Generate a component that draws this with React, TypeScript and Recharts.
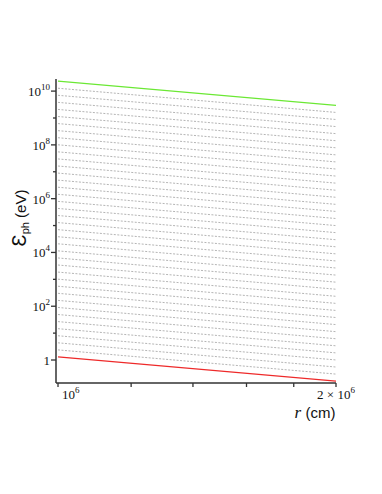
import React from "react";
import { LineChart, Line, XAxis, YAxis } from "recharts";

// radius values (cm) at which each power-law line is sampled
const radii = [1e6, 2e6];

// log10 of photon energy (eV) at r = 1e6 and r = 2e6 for each line, top to bottom
const startExp = [
  10.37, 10.107, 9.844, 9.581, 9.318, 9.055, 8.792, 8.529, 8.266, 8.003, 7.74,
  7.477, 7.214, 6.951, 6.688, 6.425, 6.162, 5.899, 5.636, 5.373, 5.11, 4.847,
  4.584, 4.321, 4.058, 3.795, 3.532, 3.269, 3.006, 2.743, 2.48, 2.217, 1.954,
  1.691, 1.428, 1.165, 0.902, 0.639, 0.376, 0.113,
];
const endExp = [
  9.47, 9.207, 8.944, 8.681, 8.418, 8.155, 7.892, 7.629, 7.366, 7.103, 6.84,
  6.577, 6.314, 6.051, 5.788, 5.525, 5.262, 4.999, 4.736, 4.473, 4.21, 3.947,
  3.684, 3.421, 3.158, 2.895, 2.632, 2.369, 2.106, 1.843, 1.58, 1.317, 1.054,
  0.791, 0.528, 0.265, 0.002, -0.261, -0.524, -0.787,
];

const yTicks = [1, 1e1, 1e2, 1e3, 1e4, 1e5, 1e6, 1e7, 1e8, 1e9, 1e10];
const xTicks = [1e6, 1.2e6, 1.4e6, 1.6e6, 1.8e6, 2e6];
const xLabelled = [1e6, 2e6];

const data = radii.map((r, i) => {
  const row: Record<string, number> = { r };
  startExp.forEach((_, k) => {
    row["s" + k] = Math.pow(10, i === 0 ? startExp[k] : endExp[k]);
  });
  return row;
});

const serif = "'Liberation Serif', 'Times New Roman', serif";
const sans = "'Liberation Sans', Arial, sans-serif";

const YTick = (props: any) => {
  const { x, y, payload } = props;
  const v = payload.value;
  const exp = Math.round(Math.log10(v));
  const major = exp % 2 === 0;
  return (
    <g>
      <line x1={x - (major ? 5 : 3)} x2={x} y1={y} y2={y} stroke="#333" strokeWidth={1.3} />
      {major && (
        <text x={x - 6} y={y + 5} textAnchor="end" fontFamily={serif} fontSize={13} fill="#111">
          {exp === 0 ? (
            "1"
          ) : (
            <>
              10
              <tspan dy={-6} fontSize={9}>
                {exp}
              </tspan>
            </>
          )}
        </text>
      )}
    </g>
  );
};

const XTick = (props: any) => {
  const { x, y, payload } = props;
  const v = payload.value;
  return (
    <g>
      <line x1={x} x2={x} y1={y} y2={y + 4} stroke="#333" strokeWidth={1.3} />
      {xLabelled.includes(v) && v === 1e6 && (
        <text x={x + 4} y={y + 16} textAnchor="start" fontFamily={serif} fontSize={13} fill="#111">
          10<tspan dy={-6} fontSize={9}>6</tspan>
        </text>
      )}
      {xLabelled.includes(v) && v === 2e6 && (
        <text x={x} y={y + 16} textAnchor="middle" fontFamily={serif} fontSize={13} fill="#111">
          2 × 10<tspan dy={-6} fontSize={9}>6</tspan>
        </text>
      )}
    </g>
  );
};

export default function App() {
  return (
    <div style={{ position: "absolute", left: 0, top: 0, width: 382, height: 494, background: "#fff" }}>
      <LineChart
        width={382}
        height={494}
        data={data}
        margin={{ top: 79, left: 16, right: 46, bottom: 81 }}
      >
        <XAxis
          dataKey="r"
          type="number"
          scale="log"
          domain={[0.995e6, 2e6]}
          ticks={xTicks}
          interval={0}
          allowDataOverflow
          height={30}
          tickSize={0}
          tickMargin={0}
          tickLine={false}
          tick={<XTick />}
          axisLine={{ stroke: "#333", strokeWidth: 1.5 }}
        />
        <XAxis
          xAxisId="top"
          orientation="top"
          dataKey="r"
          type="number"
          scale="log"
          domain={[0.995e6, 2e6]}
          allowDataOverflow
          height={0}
          tick={false}
          tickLine={false}
          axisLine={{ stroke: "#888", strokeWidth: 1.2 }}
        />
        <YAxis
          type="number"
          scale="log"
          domain={[Math.pow(10, -0.855), Math.pow(10, 10.45)]}
          allowDataOverflow
          ticks={yTicks}
          interval={0}
          width={40}
          tickSize={0}
          tickMargin={0}
          tickLine={false}
          tick={<YTick />}
          axisLine={{ stroke: "#333", strokeWidth: 1.5 }}
        />
        <YAxis
          yAxisId="right"
          orientation="right"
          type="number"
          scale="log"
          domain={[Math.pow(10, -0.855), Math.pow(10, 10.45)]}
          allowDataOverflow
          width={0}
          tick={false}
          tickLine={false}
          axisLine={{ stroke: "#888", strokeWidth: 1.2 }}
        />
        {startExp.map((_, k) => {
          const first = k === 0;
          const last = k === startExp.length - 1;
          return (
            <Line
              key={k}
              dataKey={"s" + k}
              isAnimationActive={false}
              dot={false}
              activeDot={false}
              stroke={first ? "#6be834" : last ? "#ee2a2a" : "#b5b5b5"}
              strokeWidth={first || last ? 1.3 : 1}
              strokeDasharray={first || last ? undefined : "2 1.5"}
            />
          );
        })}
        <text
          transform="translate(26 218) rotate(-90)"
          textAnchor="middle"
          fontFamily={sans}
          fill="#111"
        >
          <tspan fontSize={20}>Ɛ</tspan>
          <tspan fontSize={11} dy={3}>ph</tspan>
          <tspan fontSize={15} dy={-3}> (eV)</tspan>
        </text>
        <text x={315} y={418} textAnchor="middle" fill="#111">
          <tspan fontFamily={serif} fontStyle="italic" fontSize={17}>r</tspan>
          <tspan fontFamily={sans} fontSize={15}> (cm)</tspan>
        </text>
      </LineChart>
    </div>
  );
}
